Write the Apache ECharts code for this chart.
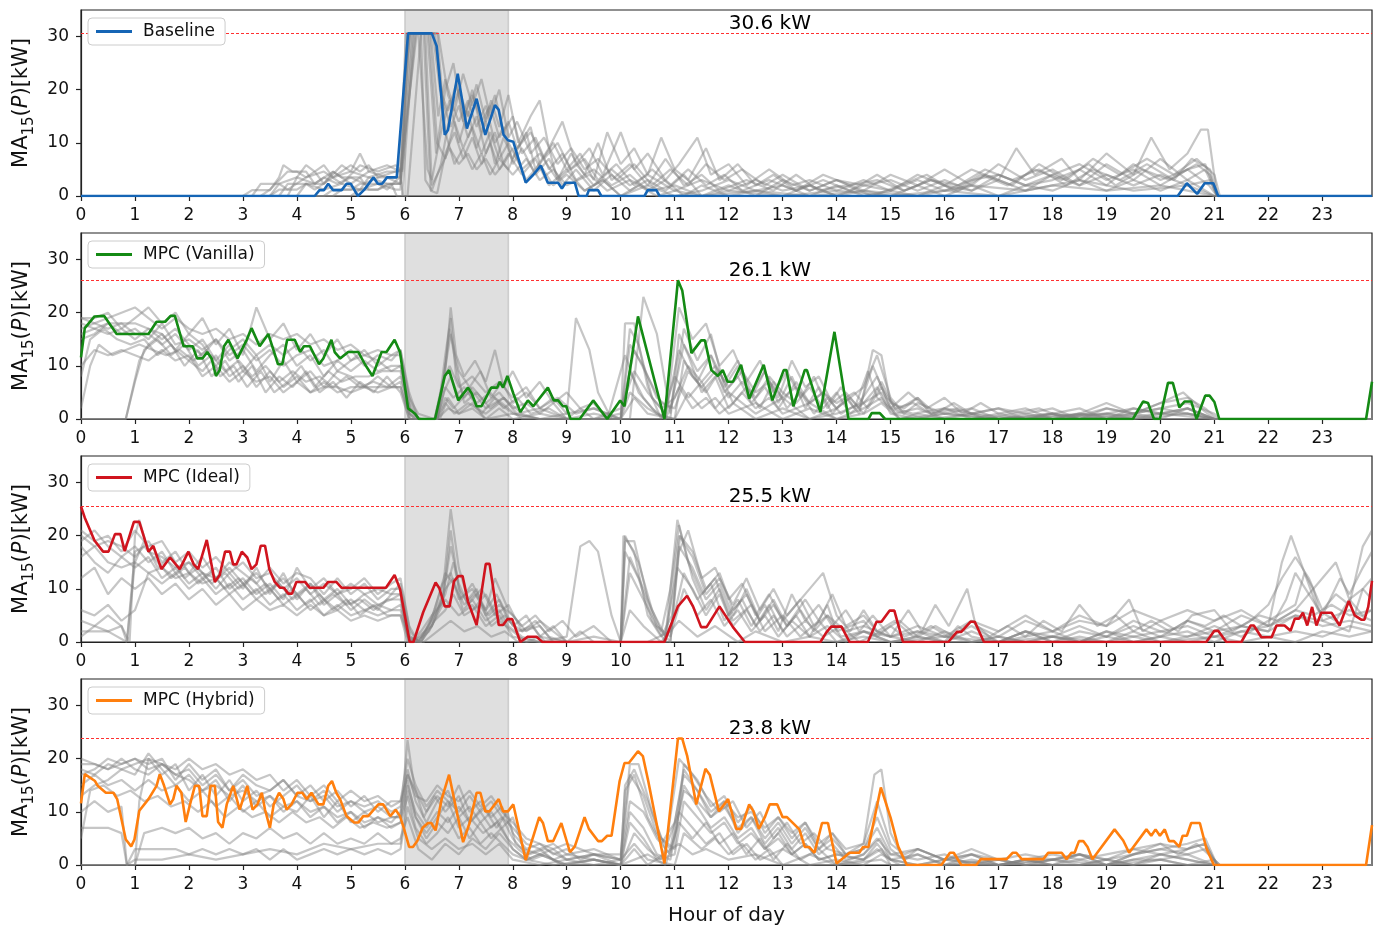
<!DOCTYPE html>
<html>
<head>
<meta charset="utf-8">
<script src="https://cdn.jsdelivr.net/npm/echarts@6/dist/echarts.min.js"></script>
<style>
  html, body { margin: 0; padding: 0; background: #fff; }
  #chart { width: 1378px; height: 928px; }
</style>
</head>
<body>
<div id="chart"></div>
<script>
// ---- axes / tick labels ----
const hourTicks = [0,1,2,3,4,5,6,7,8,9,10,11,12,13,14,15,16,17,18,19,20,21,22,23];
const kwTicks = [0,10,20,30];
const dayEnd = 23.92;          // last sample, 23:55
const kwMax = 35;
const shadeWindow = [6.0, 7.92];
const peakLabelHour = 12;

// ---- panels ----
const panelNames = ['Baseline', 'MPC (Vanilla)', 'MPC (Ideal)', 'MPC (Hybrid)'];
const panelColors = ['#1565b5', '#148a14', '#d0141e', '#ff7f0e'];
const peakKw = [30.6, 26.1, 25.5, 23.8];

// ---- highlighted day, per controller: [hour, kW] ----
const baseline = [[0,0],[4.33,0],[4.42,1.1],[4.5,1.1],[4.58,2.3],[4.67,1.1],[4.83,1.1],[4.92,2.3],[5.0,2.3],[5.13,0],[5.25,1.2],[5.42,3.5],[5.5,2.3],[5.58,2.3],[5.67,3.5],[5.85,3.5],[6.06,30.6],[6.5,30.6],[6.59,28.2],[6.74,11.5],[6.80,12.4],[6.98,23.0],[7.15,12.7],[7.33,18.3],[7.49,11.5],[7.67,17.1],[7.74,16.2],[7.83,11.5],[7.91,10.5],[8.01,10.2],[8.24,2.5],[8.38,4.0],[8.52,5.7],[8.65,2.5],[8.84,2.5],[8.91,1.4],[8.98,2.5],[9.15,2.5],[9.22,0],[9.37,0],[9.41,1.1],[9.58,1.1],[9.64,0],[10.44,0],[10.5,1.1],[10.66,1.1],[10.72,0],[20.32,0],[20.49,2.4],[20.68,0.4],[20.82,2.4],[20.98,2.4],[21.07,0],[23.92,0]];

const mpcVanilla = [[0,11.6],[0.07,17.1],[0.25,19.3],[0.43,19.4],[0.66,16.0],[1.25,16.0],[1.40,18.3],[1.56,18.3],[1.66,19.4],[1.74,19.4],[1.90,13.7],[2.07,13.7],[2.15,11.4],[2.25,11.4],[2.34,12.6],[2.42,11.4],[2.50,8.1],[2.57,9.2],[2.65,13.7],[2.73,14.9],[2.90,11.4],[3.07,14.9],[3.16,17.1],[3.31,13.7],[3.47,16.0],[3.65,10.3],[3.73,10.3],[3.82,14.9],[3.96,14.9],[4.06,12.6],[4.13,13.7],[4.24,13.7],[4.41,10.3],[4.49,11.4],[4.64,14.9],[4.70,12.6],[4.80,11.4],[4.95,12.6],[5.14,12.6],[5.26,10.3],[5.40,8.1],[5.57,12.6],[5.66,12.6],[5.81,14.9],[5.91,12.6],[6.06,2.0],[6.19,1.0],[6.26,0],[6.56,0],[6.74,8.1],[6.82,9.2],[6.99,3.5],[7.17,5.9],[7.24,4.8],[7.33,2.4],[7.42,2.4],[7.60,5.9],[7.71,5.9],[7.76,7.0],[7.82,5.9],[7.90,8.1],[8.01,4.8],[8.14,1.3],[8.28,3.5],[8.38,2.4],[8.65,5.9],[8.76,3.5],[8.84,3.5],[8.93,2.4],[8.99,2.4],[9.07,0],[9.24,0],[9.49,3.5],[9.75,0],[9.99,3.5],[10.07,2.4],[10.32,19.3],[10.81,0],[11.06,26.1],[11.14,24.2],[11.31,12.4],[11.49,14.8],[11.56,14.8],[11.68,9.2],[11.80,8.1],[11.89,9.2],[11.98,7.0],[12.08,7.0],[12.23,10.2],[12.38,3.8],[12.65,10.2],[12.81,3.5],[13.02,9.2],[13.07,9.2],[13.20,2.4],[13.41,9.2],[13.45,9.2],[13.70,1.3],[13.96,16.4],[14.22,0],[14.59,0],[14.65,1.1],[14.80,1.1],[14.9,0],[19.49,0],[19.68,3.3],[19.77,3.0],[19.88,0],[19.99,0],[20.14,6.8],[20.23,6.8],[20.35,2.2],[20.45,3.3],[20.57,3.3],[20.67,0],[20.83,4.4],[20.91,4.4],[21.0,3.2],[21.09,0],[23.81,0],[23.92,7.0]];

const mpcIdeal = [[0,25.5],[0.07,23.4],[0.25,19.1],[0.41,17.0],[0.51,17.0],[0.63,20.3],[0.73,20.3],[0.81,17.1],[0.98,22.6],[1.08,22.6],[1.25,17.0],[1.34,18.1],[1.49,13.7],[1.65,15.9],[1.83,13.7],[1.99,17.0],[2.09,14.6],[2.17,13.7],[2.33,19.2],[2.48,11.3],[2.57,12.6],[2.67,17.0],[2.76,17.0],[2.82,14.6],[2.88,14.6],[2.98,17.0],[3.08,15.9],[3.16,13.7],[3.25,14.6],[3.33,18.1],[3.41,18.1],[3.49,13.7],[3.59,11.3],[3.69,10.2],[3.76,10.2],[3.84,9.1],[3.91,9.1],[3.99,11.3],[4.15,11.3],[4.24,10.2],[4.49,10.2],[4.58,11.3],[4.73,11.3],[4.83,10.2],[5.65,10.2],[5.81,12.6],[5.91,10.0],[6.09,0],[6.16,0],[6.34,5.6],[6.57,11.2],[6.64,10.1],[6.74,6.7],[6.83,6.7],[6.91,11.4],[6.99,12.4],[7.07,12.4],[7.17,7.6],[7.33,3.2],[7.50,14.7],[7.57,14.7],[7.74,3.2],[7.82,3.2],[7.90,4.3],[7.99,4.3],[8.14,0],[8.28,1.0],[8.44,1.0],[8.55,0],[10.81,0],[11.06,6.7],[11.23,8.7],[11.34,6.7],[11.49,2.8],[11.59,2.8],[11.83,6.7],[12.08,2.8],[12.30,0],[13.70,0],[13.81,1.8],[13.90,2.9],[14.09,2.9],[14.24,0],[14.58,0],[14.74,3.8],[14.83,3.8],[14.98,5.9],[15.07,5.9],[15.23,0],[16.07,0],[16.23,1.9],[16.31,1.9],[16.48,3.8],[16.56,3.8],[16.73,0],[20.85,0],[21.0,2.1],[21.07,2.1],[21.22,0],[21.5,0],[21.67,3.1],[21.73,3.1],[21.87,0.9],[22.06,0.9],[22.15,3.1],[22.30,3.1],[22.41,2.1],[22.49,4.4],[22.57,4.4],[22.64,5.5],[22.72,3.1],[22.81,6.6],[22.89,3.1],[22.98,5.5],[23.17,5.5],[23.32,3.1],[23.49,7.7],[23.60,5.0],[23.72,4.2],[23.78,4.2],[23.85,6.6],[23.92,11.5]];

const mpcHybrid = [[0,11.6],[0.07,17.1],[0.26,15.8],[0.31,14.9],[0.46,13.6],[0.60,13.6],[0.67,12.4],[0.83,4.8],[0.93,3.5],[0.99,4.8],[1.08,10.2],[1.25,12.4],[1.40,14.9],[1.46,17.1],[1.54,14.9],[1.65,11.4],[1.71,12.4],[1.77,14.9],[1.86,13.6],[1.94,8.1],[2.02,11.4],[2.11,14.9],[2.19,14.9],[2.25,9.2],[2.33,9.2],[2.40,14.9],[2.48,14.9],[2.54,8.1],[2.62,7.0],[2.70,11.4],[2.82,14.9],[2.94,10.4],[3.08,14.9],[3.18,10.4],[3.27,11.4],[3.35,13.6],[3.41,10.4],[3.50,7.0],[3.57,11.4],[3.67,13.6],[3.75,12.4],[3.81,10.4],[3.90,11.4],[4.01,13.6],[4.10,13.6],[4.18,12.4],[4.27,13.6],[4.40,11.4],[4.49,11.4],[4.58,14.9],[4.65,15.8],[4.73,13.6],[4.80,12.4],[4.92,9.2],[5.06,8.0],[5.14,8.0],[5.23,9.2],[5.32,9.2],[5.51,11.4],[5.60,11.4],[5.73,9.2],[5.83,10.4],[5.91,9.2],[5.98,7.0],[6.08,3.4],[6.15,3.4],[6.23,4.5],[6.33,7.0],[6.43,7.9],[6.49,7.9],[6.57,6.5],[6.68,12.3],[6.82,17.0],[6.96,10.1],[7.08,4.3],[7.20,7.9],[7.33,13.6],[7.40,13.6],[7.49,10.1],[7.57,10.1],[7.74,12.4],[7.82,10.1],[7.91,10.1],[8.01,11.4],[8.24,0.9],[8.38,5.4],[8.49,9.0],[8.56,7.9],[8.65,4.5],[8.75,4.5],[8.90,7.9],[9.06,2.4],[9.15,3.5],[9.33,9.0],[9.41,6.8],[9.58,4.5],[9.65,4.5],[9.75,5.5],[9.83,5.5],[9.98,15.8],[10.07,19.2],[10.15,19.2],[10.32,21.4],[10.41,20.5],[10.51,15.8],[10.81,0.3],[11.06,23.8],[11.14,23.8],[11.23,20.6],[11.40,11.4],[11.57,18.1],[11.65,17.0],[11.82,10.1],[11.99,12.4],[12.14,6.8],[12.23,6.8],[12.38,11.4],[12.46,10.1],[12.56,6.8],[12.67,9.0],[12.76,11.4],[12.90,11.4],[13.0,9.0],[13.08,9.0],[13.31,6.7],[13.41,3.4],[13.49,3.4],[13.59,2.3],[13.73,7.9],[13.84,7.9],[14.0,0.3],[14.24,2.3],[14.42,2.3],[14.49,3.4],[14.59,3.4],[14.82,14.6],[15.0,8.9],[15.14,3.5],[15.30,0],[15.94,0],[16.10,2.3],[16.17,2.3],[16.31,0],[16.59,0],[16.67,1.1],[17.15,1.1],[17.26,2.3],[17.33,2.3],[17.43,1.1],[17.83,1.1],[17.92,2.3],[18.17,2.3],[18.26,1.1],[18.35,2.3],[18.41,2.3],[18.49,4.5],[18.57,4.5],[18.65,3.4],[18.74,1.1],[19.15,6.7],[19.31,4.6],[19.42,2.3],[19.74,6.7],[19.83,5.5],[19.91,6.7],[19.99,5.5],[20.08,6.7],[20.16,4.5],[20.25,4.5],[20.35,3.4],[20.41,5.5],[20.49,5.5],[20.57,7.9],[20.73,7.9],[20.85,3.2],[20.99,0],[23.81,0],[23.92,7.5]];

// ---- other days of the same controller (grey traces) ----
const baselineDays = [
  [[0,0],[3.0,0],[3.17,1.1],[3.5,1.1],[3.67,3.5],[3.75,5.8],[3.92,4.6],[4.17,4.6],[4.33,2.3],[4.5,3.5],[4.75,2.3],[5.0,3.5],[5.25,2.3],[5.5,3.5],[5.83,4.6],[5.95,5],[6.05,30.6],[6.25,30.6],[6.42,5],[6.5,3],[6.67,12],[6.83,18],[7.0,10],[7.17,16],[7.33,9],[7.5,14],[7.67,6],[7.83,11],[8.0,7],[8.25,12],[8.42,5],[8.67,9],[8.83,3],[9.08,8],[9.33,4],[9.58,10],[9.83,3],[10.17,6],[10.5,2],[10.83,7],[11.17,2],[11.5,4],[11.83,1],[12.33,3],[12.83,1],[13.25,4],[13.67,1],[14.17,2],[14.67,0],[15.17,2],[15.67,4],[16.17,1],[16.67,4],[17.17,2],[17.67,5],[18.17,3],[18.67,6],[19.17,2],[19.67,5],[20.17,3],[20.67,6],[20.92,4],[21.05,0],[23.92,0]],
  [[0,0],[3.33,0],[3.5,1.2],[3.83,4.6],[4.0,4.6],[4.17,3.5],[4.33,4.6],[4.5,2.3],[4.83,5.8],[5.0,4.6],[5.17,8],[5.33,4.6],[5.67,3.5],[5.92,2.3],[6.12,30.6],[6.42,30.6],[6.58,8],[6.75,20],[6.9,25],[7.08,14],[7.25,20],[7.42,12],[7.6,18],[7.75,13],[7.92,19],[8.1,10],[8.33,15],[8.5,18],[8.67,9],[8.92,14],[9.17,6],[9.42,9],[9.67,4],[10.0,12],[10.25,5],[10.5,8],[10.83,3],[11.08,6],[11.42,11],[11.67,4],[12.0,6],[12.33,2],[12.75,5],[13.17,2],[13.5,3],[14.0,1],[14.5,3],[15.0,1],[15.5,4],[16.0,2],[16.5,5],[17.0,3],[17.33,9],[17.67,4],[18.17,7],[18.5,3],[19.0,8],[19.5,4],[19.83,11],[20.17,5],[20.5,8],[20.75,12.5],[20.88,12.5],[21.05,0],[23.92,0]],
  [[0,0],[4.0,0],[4.17,2.3],[4.5,2.3],[4.67,4.6],[4.83,3.5],[5.17,3.5],[5.33,1.2],[5.5,1.2],[5.75,2.3],[5.85,0],[5.95,0],[6.17,30.6],[6.55,30.6],[6.7,18],[6.85,13],[7.0,17],[7.17,11],[7.33,15],[7.5,8],[7.67,12],[7.83,6],[8.0,9],[8.25,3],[8.5,6],[8.75,2],[9.0,4],[9.33,1],[9.67,3],[10.0,0],[10.5,2],[11.0,0],[11.5,1],[12.0,3],[12.5,1],[13.0,0],[13.5,2],[14.0,0],[14.5,1],[15.0,0],[15.5,2],[16.0,0],[16.5,2],[17.0,0],[17.5,2],[18.0,1],[18.5,3],[19.0,1],[19.5,3],[20.0,1],[20.5,3],[21.0,0],[23.92,0]],
  [[0,0],[3.5,0],[3.67,1.2],[4.0,1.2],[4.17,2.3],[4.5,1.2],[4.83,2.3],[5.17,1.2],[5.5,2.3],[5.83,1.2],[5.92,1.2],[6.0,22],[6.1,30.6],[6.3,30.6],[6.38,3],[6.5,1],[6.67,6],[6.83,15],[7.0,20],[7.17,15],[7.33,21],[7.5,14],[7.67,19],[7.83,12],[8.0,15],[8.17,8],[8.42,11],[8.67,5],[8.92,8],[9.17,3],[9.5,5],[9.83,2],[10.17,4],[10.5,1],[10.83,3],[11.17,0],[11.5,2],[12.0,0],[12.5,1],[13.0,2],[13.5,0],[14.0,2],[14.5,0],[15.0,1],[15.5,0],[16.0,2],[16.5,1],[17.0,3],[17.5,1],[18.0,4],[18.5,2],[19.0,4],[19.5,2],[20.0,4],[20.5,2],[20.92,3],[21.05,0],[23.92,0]],
  [[0,0],[5.0,0],[5.17,1.2],[5.5,1.2],[5.67,2.3],[5.92,2.3],[6.2,30.6],[6.6,30.6],[6.75,12],[6.92,6],[7.08,9],[7.25,5],[7.42,8],[7.58,4],[7.75,7],[7.92,5],[8.08,9],[8.33,13],[8.5,6],[8.75,10],[9.0,5],[9.25,8],[9.5,3],[9.75,12],[10.0,6],[10.25,9],[10.5,4],[10.75,11],[11.0,5],[11.25,3],[11.58,9],[11.83,3],[12.17,6],[12.5,2],[12.83,4],[13.25,1],[13.75,3],[14.25,1],[14.75,4],[15.25,1],[15.75,3],[16.25,1],[16.75,4],[17.25,2],[17.75,6],[18.25,3],[18.75,7],[19.25,4],[19.75,7],[20.25,4],[20.67,7],[21.0,4],[21.1,0],[23.92,0]],
  [[0,0],[3.67,0],[3.83,2.3],[4.17,2.3],[4.33,1.2],[4.67,3.5],[5.0,4.6],[5.33,3.5],[5.67,4.6],[5.9,4.6],[5.97,0],[6.05,0],[6.3,30.6],[6.62,30.6],[6.8,19],[7.0,14],[7.17,18],[7.33,13],[7.5,17],[7.67,10],[7.83,13],[8.0,6],[8.17,9],[8.42,4],[8.67,7],[8.92,2],[9.17,5],[9.5,1],[9.83,4],[10.17,1],[10.5,3],[10.83,1],[11.17,4],[11.5,0],[12.0,2],[12.5,0],[13.0,3],[13.5,1],[14.0,3],[14.5,1],[15.0,4],[15.5,2],[16.0,5],[16.5,2],[17.0,6],[17.5,3],[18.0,5],[18.5,2],[19.0,6],[19.5,3],[20.0,7],[20.5,3],[20.83,5],[21.05,0],[23.92,0]],
  [[0,0],[4.5,0],[4.67,1.2],[5.0,1.2],[5.17,2.3],[5.5,2.3],[5.67,1.2],[5.9,3.5],[6.02,30.6],[6.35,30.6],[6.48,1],[6.6,0.5],[6.75,8],[6.92,12],[7.08,7],[7.25,11],[7.42,6],[7.58,10],[7.75,5],[7.92,8],[8.17,4],[8.42,7],[8.67,2],[9.0,5],[9.33,1],[9.67,3],[10.0,0],[10.33,2],[10.67,0],[11.0,1],[11.5,0],[12.0,1],[13.0,0],[14.0,1],[15.0,0],[16.0,1],[17.0,0],[18.0,2],[19.0,1],[20.0,2],[20.5,1],[21.0,0],[23.92,0]],
  [[0,0],[3.83,0],[4.0,3.5],[4.17,5.8],[4.33,4.6],[4.5,5.8],[4.67,3.5],[5.0,5.8],[5.17,4.6],[5.33,5.8],[5.5,3.5],[5.92,3.5],[6.08,30.6],[6.48,30.6],[6.62,15],[6.75,22],[6.92,16],[7.08,23],[7.25,17],[7.42,22],[7.58,15],[7.75,20],[7.92,11],[8.08,14],[8.33,8],[8.58,11],[8.83,6],[9.08,9],[9.33,5],[9.58,7],[9.92,3],[10.25,6],[10.58,2],[10.92,5],[11.25,2],[11.58,6],[11.92,3],[12.25,5],[12.67,2],[13.0,4],[13.5,1],[14.0,3],[14.5,2],[15.0,3],[15.5,1],[16.0,3],[16.5,1],[17.0,4],[17.5,2],[18.0,4],[18.5,6],[19.0,3],[19.5,5],[20.0,2],[20.5,5],[20.83,6],[21.05,0],[23.92,0]],
  [[0,0],[3.17,0],[3.33,2.3],[3.67,2.3],[3.83,1.2],[4.17,3.5],[4.5,4.6],[4.83,2.3],[5.17,5.8],[5.5,4.6],[5.83,5.8],[5.95,4.6],[6.15,30.6],[6.45,30.6],[6.6,10],[6.75,7],[6.92,14],[7.08,9],[7.25,13],[7.42,8],[7.58,12],[7.75,7],[7.92,10],[8.17,5],[8.5,8],[8.83,3],[9.17,6],[9.5,2],[9.83,5],[10.17,2],[10.5,4],[11.0,1],[11.5,3],[12.0,1],[12.5,3],[13.0,1],[13.5,2],[14.0,0],[14.5,2],[15.0,1],[15.5,3],[16.0,1],[16.5,3],[17.0,4],[17.5,2],[18.0,3],[18.5,5],[19.0,2],[19.5,6],[20.0,3],[20.5,5],[20.9,2],[21.05,0],[23.92,0]],
  [[0,0],[4.67,0],[4.83,1.2],[5.17,1.2],[5.33,3.5],[5.67,2.3],[5.92,2.3],[6.08,30.6],[6.38,30.6],[6.5,2],[6.65,5],[6.83,9],[7.0,6],[7.17,8],[7.33,5],[7.5,7],[7.67,4],[7.83,6],[8.0,4],[8.25,7],[8.5,3],[8.75,5],[9.0,2],[9.42,4],[9.75,1],[10.17,3],[10.58,1],[11.0,2],[11.5,0],[12.5,1],[13.5,0],[14.5,1],[15.5,0],[16.5,2],[17.5,1],[18.5,3],[19.5,1],[20.5,2],[21.0,0],[23.92,0]],
  [[0,0],[3.5,0],[3.67,2.3],[4.0,3.5],[4.33,2.3],[4.67,4.6],[5.0,2.3],[5.33,4.6],[5.67,5.8],[5.92,4.6],[6.22,30.6],[6.52,30.6],[6.65,20],[6.8,16],[6.95,21],[7.1,15],[7.25,19],[7.42,14],[7.58,17],[7.75,11],[7.92,14],[8.08,9],[8.33,12],[8.58,7],[8.83,10],[9.08,5],[9.33,7],[9.58,3],[9.92,6],[10.25,2],[10.58,5],[10.92,2],[11.25,5],[11.58,2],[11.92,4],[12.25,1],[12.75,3],[13.25,1],[13.75,4],[14.25,2],[14.75,3],[15.25,1],[15.75,3],[16.25,2],[16.75,5],[17.25,3],[17.75,5],[18.25,2],[18.75,5],[19.25,3],[19.75,6],[20.25,3],[20.58,7],[20.92,5],[21.05,0],[23.92,0]]
];

const vanillaDays = [
  [[0,17],[0.25,18],[0.5,17],[0.75,18],[1.0,18],[1.25,17],[1.5,15],[1.75,17],[2.0,14],[2.25,12],[2.5,15],[2.75,11],[3.0,13],[3.25,9],[3.5,12],[3.75,14],[4.0,10],[4.25,12],[4.5,8],[4.75,11],[5.0,9],[5.25,11],[5.5,9],[5.75,10],[5.92,10],[6.1,2],[6.25,0],[6.6,0],[6.75,12],[6.85,19],[6.95,8],[7.1,4],[7.25,6],[7.5,3],[7.75,5],[8.0,2],[8.25,3],[8.5,1],[8.75,3],[9.0,0],[9.5,1],[10.0,0],[10.17,17],[10.33,14],[10.58,4],[10.83,1],[11.08,13],[11.33,8],[11.58,5],[11.83,9],[12.08,3],[12.33,6],[12.58,2],[12.83,7],[13.08,2],[13.33,5],[13.58,1],[13.83,4],[14.08,1],[14.42,3],[14.75,8],[15.0,2],[15.25,1],[15.5,3],[16.0,1],[16.5,2],[17.0,0],[17.5,1],[18.0,0],[18.5,1],[19.0,0],[19.5,2],[20.0,1],[20.5,2],[21.0,0],[23.92,0]],
  [[0,0],[0.5,0],[0.83,0],[1.08,11],[1.25,14],[1.5,16],[1.75,13],[2.0,11],[2.25,9],[2.5,12],[2.75,8],[3.0,10],[3.25,6],[3.5,9],[3.75,6],[4.0,8],[4.25,5],[4.5,7],[4.75,5],[5.0,6],[5.5,6],[5.92,6],[6.08,1],[6.2,0],[6.55,0],[6.7,6],[6.83,17],[6.95,10],[7.1,3],[7.33,5],[7.58,2],[7.83,4],[8.08,1],[8.5,2],[9.0,0],[10.0,0],[10.08,18],[10.25,18],[10.5,6],[10.75,0],[11.0,8],[11.25,4],[11.5,7],[11.75,2],[12.0,5],[12.5,1],[13.0,4],[13.5,0],[14.0,2],[14.5,6],[14.75,12],[15.0,4],[15.25,1],[15.75,0],[16.5,1],[17.5,0],[18.5,1],[19.5,0],[20.5,1],[21.0,0],[23.92,0]],
  [[0,8],[0.17,15],[0.42,17],[0.67,15],[0.92,14],[1.17,15],[1.42,12],[1.67,14],[1.92,10],[2.17,13],[2.42,8],[2.67,11],[2.92,7],[3.17,10],[3.42,5],[3.67,8],[3.92,6],[4.17,9],[4.42,5],[4.67,7],[4.92,4],[5.17,7],[5.42,5],[5.67,8],[5.92,5],[6.08,0],[6.6,0],[6.75,4],[6.9,2],[7.17,5],[7.42,1],[7.67,4],[7.92,2],[8.17,0],[8.5,0],[9.0,1],[9.17,19],[9.42,13],[9.58,5],[9.83,0],[10.17,0],[10.42,23],[10.67,16],[10.92,1],[11.17,17],[11.42,11],[11.67,16],[11.92,6],[12.17,10],[12.42,4],[12.67,9],[12.92,3],[13.17,8],[13.42,2],[13.67,6],[13.92,1],[14.17,4],[14.42,1],[14.67,13],[14.83,12],[15.0,3],[15.25,2],[15.5,4],[15.75,1],[16.25,2],[16.75,0],[17.25,1],[17.75,2],[18.25,0],[19.0,2],[19.5,1],[20.0,3],[20.5,4],[20.83,2],[21.05,0],[23.92,0]],
  [[0,19],[0.25,19],[0.5,20],[0.75,17],[1.0,19],[1.25,21],[1.5,18],[1.75,20],[2.0,16],[2.25,19],[2.5,14],[2.75,17],[3.0,12],[3.25,21],[3.5,15],[3.75,18],[4.0,13],[4.25,16],[4.5,12],[4.75,15],[5.0,11],[5.25,13],[5.5,10],[5.75,12],[5.92,12],[6.1,3],[6.25,0],[6.6,0],[6.75,9],[6.85,21],[6.95,12],[7.1,8],[7.3,11],[7.5,7],[7.67,13],[7.83,6],[8.0,9],[8.25,4],[8.5,7],[8.75,3],[9.0,5],[9.25,2],[9.5,3],[9.75,0],[10.0,9],[10.08,12],[10.33,5],[10.58,2],[10.83,0],[11.08,21],[11.33,15],[11.58,18],[11.83,10],[12.08,13],[12.33,7],[12.58,11],[12.83,5],[13.08,9],[13.33,4],[13.58,8],[13.83,2],[14.08,6],[14.33,2],[14.58,9],[14.75,4],[15.0,2],[15.33,5],[15.67,2],[16.0,4],[16.33,1],[16.67,3],[17.0,1],[17.5,2],[18.0,0],[18.5,1],[19.0,3],[19.5,1],[20.0,2],[20.5,3],[21.0,1],[21.1,0],[23.92,0]],
  [[0,0],[0.83,0],[1.0,7],[1.17,13],[1.42,15],[1.67,12],[1.92,14],[2.17,10],[2.42,12],[2.67,9],[2.92,11],[3.17,8],[3.42,10],[3.67,7],[3.92,9],[4.17,7],[4.42,8],[4.67,6],[4.92,8],[5.17,6],[5.42,7],[5.67,6],[5.92,8],[6.1,2],[6.25,0],[6.65,0],[6.8,4],[7.0,1],[7.25,3],[7.5,0],[7.75,2],[8.0,0],[8.5,1],[9.0,0],[10.0,0],[10.17,5],[10.5,2],[10.83,0],[11.08,6],[11.33,2],[11.58,4],[11.83,1],[12.08,3],[12.5,0],[13.0,2],[13.5,0],[14.0,1],[14.5,3],[14.75,6],[15.0,1],[15.5,0],[16.0,1],[17.0,0],[18.0,1],[19.0,0],[20.0,1],[21.0,0],[23.92,0]],
  [[0,15],[0.25,16],[0.5,18],[0.75,16],[1.0,17],[1.25,15],[1.5,18],[1.75,14],[2.0,15],[2.25,13],[2.5,15],[2.75,12],[3.0,14],[3.25,11],[3.5,13],[3.75,10],[4.0,12],[4.25,13],[4.5,10],[4.75,11],[5.0,13],[5.25,10],[5.5,12],[5.75,11],[5.92,13],[6.08,4],[6.25,1],[6.55,0],[6.7,7],[6.83,10],[7.0,6],[7.25,8],[7.5,5],[7.75,7],[8.0,4],[8.25,6],[8.5,2],[8.75,4],[9.0,1],[9.5,2],[10.0,0],[10.17,9],[10.42,4],[10.67,1],[11.0,0],[11.17,11],[11.42,7],[11.67,12],[11.92,5],[12.17,8],[12.42,3],[12.67,6],[12.92,2],[13.25,7],[13.5,3],[13.75,5],[14.0,2],[14.25,4],[14.5,1],[14.83,7],[15.08,2],[15.42,3],[15.75,1],[16.0,2],[16.5,0],[17.0,1],[17.5,0],[18.5,2],[19.0,0],[19.5,1],[20.0,0],[20.5,2],[21.0,0],[23.92,0]],
  [[0,2],[0.17,10],[0.33,14],[0.58,12],[0.83,13],[1.08,14],[1.33,13],[1.58,12],[1.83,13],[2.08,11],[2.33,13],[2.58,8],[2.83,10],[3.08,6],[3.33,9],[3.58,5],[3.83,7],[4.08,10],[4.33,6],[4.58,9],[4.83,7],[5.08,8],[5.33,8],[5.58,9],[5.92,9],[6.1,0],[6.6,0],[6.75,3],[6.92,1],[7.17,3],[7.5,1],[7.75,3],[8.0,1],[8.5,0],[9.0,0],[9.25,2],[9.5,0],[10.0,1],[10.25,13],[10.5,8],[10.75,3],[11.0,2],[11.25,9],[11.5,6],[11.75,9],[12.0,4],[12.25,7],[12.5,4],[12.75,8],[13.0,5],[13.25,3],[13.5,6],[13.75,2],[14.0,5],[14.25,1],[14.5,3],[14.83,5],[15.08,1],[15.5,2],[16.0,0],[16.5,1],[17.0,0],[18.0,1],[18.5,0],[19.5,1],[20.0,2],[20.5,1],[21.0,0],[23.92,0]],
  [[0,18],[0.25,17],[0.5,18],[0.75,18],[1.0,16],[1.25,16],[1.5,14],[1.75,16],[2.0,13],[2.25,15],[2.5,11],[2.75,14],[3.0,9],[3.25,12],[3.5,7],[3.75,11],[4.0,7],[4.25,9],[4.5,6],[4.75,9],[5.0,8],[5.25,6],[5.5,8],[5.75,6],[5.92,7],[6.08,1],[6.2,0],[6.6,0],[6.72,5],[6.85,8],[7.0,4],[7.2,6],[7.5,2],[7.83,4],[8.17,1],[8.5,0],[10.92,0],[11.08,16],[11.25,12],[11.5,5],[11.75,8],[12.0,2],[12.25,5],[12.5,2],[12.75,4],[13.0,1],[13.5,3],[14.0,0],[14.5,2],[14.83,4],[15.17,0],[15.5,1],[16.0,0],[18.0,0],[19.0,1],[19.5,2],[20.0,1],[20.5,1],[21.0,0],[23.92,0]],
  [[0,16],[0.25,17],[0.5,16],[0.75,17],[1.0,15],[1.25,17],[1.5,16],[1.75,13],[2.0,16],[2.25,14],[2.5,10],[2.75,13],[3.0,15],[3.25,12],[3.5,14],[3.75,12],[4.0,14],[4.25,11],[4.5,13],[4.75,9],[5.0,11],[5.25,12],[5.5,11],[5.75,9],[5.92,10],[6.1,1],[6.3,0],[6.6,0],[6.75,6],[6.9,4],[7.1,6],[7.33,3],[7.58,5],[7.83,2],[8.08,4],[8.33,1],[8.67,2],[9.0,0],[9.5,0],[10.0,2],[10.25,9],[10.5,5],[10.75,2],[11.0,4],[11.25,10],[11.5,7],[11.75,10],[12.0,6],[12.25,9],[12.5,5],[12.75,7],[13.0,4],[13.25,6],[13.5,3],[13.75,5],[14.0,3],[14.33,5],[14.58,2],[14.83,6],[15.08,2],[15.42,1],[16.0,2],[16.5,1],[17.0,2],[17.5,0],[18.0,1],[18.5,0],[19.0,1],[19.5,0],[20.0,1],[20.5,2],[21.0,0],[23.92,0]],
  [[0,10],[0.25,13],[0.5,12],[0.75,13],[1.0,12],[1.25,11],[1.5,13],[1.75,11],[2.0,12],[2.25,8],[2.5,10],[2.75,7],[3.0,9],[3.25,7],[3.5,8],[3.75,5],[4.0,7],[4.25,5],[4.5,6],[4.75,6],[5.0,5],[5.25,6],[5.5,5],[5.75,6],[5.92,6],[6.08,0],[6.6,0],[6.8,2],[7.0,1],[7.25,2],[7.5,0],[8.0,1],[8.5,0],[10.0,0],[10.25,4],[10.5,1],[11.0,0],[11.25,5],[11.5,2],[11.75,4],[12.0,1],[12.5,3],[13.0,0],[13.5,2],[14.0,0],[14.5,1],[14.83,3],[15.17,0],[16.0,1],[17.0,0],[19.0,1],[20.0,0],[23.92,0]],
  [[0,19],[0.25,18],[0.5,19],[0.75,20],[1.0,21],[1.25,19],[1.5,17],[1.75,19],[2.0,17],[2.25,16],[2.5,17],[2.75,15],[3.0,16],[3.25,14],[3.5,16],[3.75,15],[4.0,16],[4.25,14],[4.5,15],[4.75,13],[5.0,14],[5.25,12],[5.5,13],[5.75,12],[5.92,13],[6.08,5],[6.25,0],[6.6,0],[6.72,8],[6.85,16],[7.0,9],[7.2,6],[7.4,9],[7.6,4],[7.8,7],[8.0,3],[8.25,5],[8.5,2],[8.83,4],[9.17,1],[9.5,2],[10.0,0],[10.17,14],[10.42,10],[10.67,4],[10.92,2],[11.17,14],[11.42,9],[11.67,12],[11.92,7],[12.17,11],[12.42,5],[12.67,9],[12.92,4],[13.17,11],[13.42,6],[13.67,8],[13.92,3],[14.17,5],[14.42,2],[14.67,10],[14.92,4],[15.17,2],[15.5,4],[15.83,1],[16.17,3],[16.5,1],[17.0,2],[17.5,1],[18.0,2],[18.5,0],[19.0,2],[19.5,1],[20.0,3],[20.42,5],[20.75,2],[21.0,0],[23.92,0]]
];

const idealDays = [
  [[0,19],[0.25,21],[0.5,18],[0.75,16],[1.0,18],[1.25,15],[1.5,17],[1.75,13],[2.0,15],[2.25,12],[2.5,14],[2.75,10],[3.0,12],[3.25,9],[3.5,11],[3.75,8],[4.0,14],[4.25,10],[4.5,12],[4.75,9],[5.0,11],[5.25,9],[5.5,10],[5.75,9],[5.92,11],[6.1,2],[6.25,0],[6.5,4],[6.7,9],[6.85,25],[7.0,14],[7.17,8],[7.33,10],[7.5,5],[7.75,8],[8.0,3],[8.25,5],[8.5,1],[8.75,3],[9.0,0],[9.25,2],[9.5,0],[10.0,0],[10.08,20],[10.33,15],[10.58,6],[10.83,1],[11.05,23],[11.25,15],[11.5,9],[11.75,12],[12.0,5],[12.25,8],[12.5,3],[12.75,7],[13.0,2],[13.25,5],[13.5,1],[13.83,7],[14.0,2],[14.5,4],[14.75,1],[15.0,3],[15.25,1],[15.5,2],[16.0,0],[16.25,3],[16.5,1],[17.0,0],[17.5,2],[18.0,0],[18.5,2],[19.0,1],[19.5,3],[20.0,1],[20.5,4],[21.0,2],[21.5,5],[22.0,3],[22.25,15],[22.42,20],[22.67,13],[22.92,6],[23.25,4],[23.5,8],[23.75,5],[23.92,6]],
  [[0,1],[0.25,3],[0.5,2],[0.75,3],[0.9,0],[1.0,20],[1.08,23],[1.25,17],[1.5,16],[1.75,14],[2.0,15],[2.25,13],[2.5,12],[2.75,14],[3.0,11],[3.25,13],[3.5,10],[3.75,12],[4.0,9],[4.25,11],[4.5,8],[4.75,10],[5.0,7],[5.25,9],[5.5,7],[5.75,8],[5.92,9],[6.05,1],[6.2,0],[6.45,2],[6.7,7],[6.85,21],[7.0,10],[7.25,6],[7.5,9],[7.75,4],[8.0,2],[8.25,0],[8.5,1],[9.0,0],[10.0,0],[10.08,19],[10.25,19],[10.5,8],[10.75,2],[10.92,10],[11.08,22],[11.33,12],[11.58,6],[11.83,10],[12.08,4],[12.42,7],[12.67,2],[13.0,5],[13.33,1],[13.67,4],[14.0,0],[14.5,2],[15.0,0],[15.5,1],[16.0,0],[17.0,0],[17.5,2],[18.0,0],[18.5,1],[19.0,0],[19.5,2],[20.0,0],[20.5,1],[21.0,3],[21.5,1],[22.0,4],[22.5,7],[22.67,13],[22.83,10],[23.0,4],[23.5,2],[23.75,10],[23.92,12]],
  [[0,16],[0.25,18],[0.5,15],[0.75,14],[1.0,15],[1.25,13],[1.5,14],[1.75,12],[2.0,13],[2.25,11],[2.5,12],[2.75,9],[3.0,11],[3.25,8],[3.5,10],[3.75,7],[4.0,9],[4.25,6],[4.5,8],[4.75,6],[5.0,8],[5.25,6],[5.5,7],[5.75,6],[5.92,7],[6.08,0],[6.25,1],[6.5,3],[6.75,10],[6.9,12],[7.08,6],[7.25,8],[7.5,4],[7.75,6],[7.92,3],[8.17,1],[8.5,0],[9.0,1],[9.25,18],[9.42,19],[9.58,17],[9.83,5],[10.0,0],[10.92,0],[11.08,17],[11.25,21],[11.5,12],[11.75,14],[12.0,8],[12.25,11],[12.5,5],[12.75,9],[13.0,4],[13.25,7],[13.5,10],[13.75,13],[14.0,5],[14.25,2],[14.5,6],[14.75,2],[15.0,1],[15.5,3],[16.0,1],[16.5,4],[17.0,2],[17.5,5],[18.0,2],[18.5,4],[19.0,3],[19.5,6],[20.0,4],[20.5,6],[21.0,4],[21.5,6],[22.0,3],[22.5,6],[23.0,12],[23.25,15],[23.5,8],[23.75,10],[23.92,8]],
  [[0,6],[0.25,5],[0.5,7],[0.75,4],[1.0,6],[1.25,13],[1.5,11],[1.75,13],[2.0,10],[2.25,12],[2.5,9],[2.75,11],[3.0,8],[3.25,10],[3.5,7],[3.75,9],[4.0,6],[4.25,8],[4.5,5],[4.75,7],[5.0,5],[5.25,6],[5.5,5],[5.75,6],[5.92,6],[6.1,0],[6.3,2],[6.5,5],[6.75,8],[7.0,5],[7.25,7],[7.5,3],[7.75,5],[8.0,1],[8.5,0],[10.0,0],[10.17,13],[10.42,8],[10.67,3],[10.92,1],[11.17,10],[11.42,5],[11.67,8],[11.92,3],[12.17,6],[12.42,2],[12.67,5],[12.92,1],[13.17,4],[13.5,1],[13.83,3],[14.17,0],[14.5,2],[15.0,0],[15.5,1],[16.0,0],[16.5,2],[17.0,0],[17.5,1],[18.0,2],[18.5,0],[19.0,2],[19.5,1],[20.0,2],[20.5,1],[21.0,2],[21.5,3],[22.0,2],[22.5,5],[23.0,3],[23.5,4],[23.92,3]],
  [[0,2],[0.5,2],[0.85,0],[1.0,17],[1.17,18],[1.42,15],[1.67,12],[1.92,14],[2.17,11],[2.42,13],[2.67,10],[2.92,12],[3.17,9],[3.42,11],[3.67,8],[3.92,10],[4.17,7],[4.42,9],[4.67,6],[4.92,8],[5.17,5],[5.42,7],[5.67,5],[5.92,5],[6.05,0],[6.3,0],[6.55,4],[6.75,6],[6.9,9],[7.1,5],[7.4,7],[7.6,3],[7.85,5],[8.1,2],[8.35,3],[8.6,0],[10.0,0],[10.05,20],[10.25,17],[10.5,5],[10.75,1],[10.95,5],[11.1,20],[11.33,17],[11.58,10],[11.83,13],[12.08,6],[12.33,9],[12.58,4],[12.83,8],[13.08,3],[13.33,6],[13.58,2],[13.83,5],[14.08,1],[14.5,2],[15.0,1],[15.5,0],[16.0,2],[16.5,0],[17.0,1],[17.5,0],[18.0,1],[18.5,0],[19.0,2],[19.5,0],[20.0,1],[20.5,0],[21.0,1],[21.5,2],[22.0,1],[22.5,2],[23.0,1],[23.5,3],[23.92,2]],
  [[0,21],[0.25,19],[0.5,20],[0.75,17],[1.0,21],[1.25,18],[1.5,19],[1.75,15],[2.0,17],[2.25,14],[2.5,16],[2.75,13],[3.0,15],[3.25,12],[3.5,13],[3.75,10],[4.0,12],[4.25,9],[4.5,11],[4.75,9],[5.0,10],[5.25,12],[5.5,9],[5.75,11],[5.92,12],[6.08,3],[6.25,0],[6.45,3],[6.7,11],[6.85,13],[7.0,8],[7.25,10],[7.5,6],[7.67,12],[7.92,6],[8.17,3],[8.42,5],[8.67,2],[8.92,4],[9.17,1],[9.5,3],[9.83,0],[10.5,0],[10.92,2],[11.17,13],[11.42,8],[11.67,11],[11.92,4],[12.17,8],[12.42,3],[12.67,7],[12.92,2],[13.17,9],[13.42,4],[13.67,7],[13.92,3],[14.17,6],[14.42,2],[14.67,5],[15.0,1],[15.33,6],[15.58,2],[15.83,7],[16.08,3],[16.42,10],[16.58,3],[17.0,1],[17.5,4],[18.0,2],[18.5,5],[19.0,3],[19.42,8],[19.67,2],[20.0,4],[20.33,2],[20.58,5],[21.0,6],[21.33,2],[21.67,4],[22.0,7],[22.25,12],[22.5,16],[22.75,12],[23.0,6],[23.25,9],[23.5,7],[23.75,18],[23.92,21]],
  [[0,12],[0.25,14],[0.5,9],[0.75,12],[1.0,10],[1.25,12],[1.5,9],[1.75,11],[2.0,8],[2.25,10],[2.5,7],[2.75,9],[3.0,6],[3.25,8],[3.5,6],[3.75,7],[4.0,5],[4.25,7],[4.5,5],[4.75,6],[5.0,4],[5.25,5],[5.5,4],[5.75,5],[5.92,5],[6.1,0],[6.35,0],[6.6,2],[6.85,4],[7.1,2],[7.35,3],[7.6,1],[7.85,2],[8.1,0],[9.0,0],[9.5,1],[10.0,0],[10.17,6],[10.42,3],[10.75,0],[11.08,4],[11.42,1],[11.75,3],[12.17,0],[12.5,2],[13.0,0],[13.5,1],[14.0,0],[14.5,1],[15.0,0],[16.0,1],[17.0,0],[18.0,1],[19.0,0],[19.5,1],[20.0,0],[21.0,1],[21.5,0],[22.0,1],[22.5,0],[23.0,2],[23.5,1],[23.92,2]],
  [[0,18],[0.25,15],[0.5,13],[0.75,16],[1.0,14],[1.25,16],[1.5,12],[1.75,14],[2.0,11],[2.25,13],[2.5,10],[2.75,13],[3.0,10],[3.25,14],[3.5,9],[3.75,13],[4.0,8],[4.25,11],[4.5,7],[4.75,9],[5.0,6],[5.25,8],[5.5,6],[5.75,9],[5.92,9],[6.08,1],[6.3,0],[6.55,6],[6.75,13],[6.9,11],[7.1,7],[7.3,9],[7.55,5],[7.75,7],[8.0,5],[8.25,2],[8.5,4],[8.75,2],[9.0,0],[10.8,0],[11.05,14],[11.33,10],[11.58,5],[11.83,9],[12.08,3],[12.33,6],[12.58,2],[12.83,5],[13.08,1],[13.42,4],[13.75,1],[14.08,3],[14.42,0],[14.83,2],[15.17,4],[15.5,1],[15.83,3],[16.17,1],[16.5,4],[16.83,1],[17.17,3],[17.5,1],[17.83,4],[18.17,2],[18.5,7],[18.83,3],[19.17,5],[19.5,2],[19.83,4],[20.17,2],[20.5,4],[20.83,3],[21.17,5],[21.5,3],[21.83,5],[22.17,4],[22.5,6],[22.83,5],[23.17,7],[23.5,5],[23.92,6]],
  [[0,4],[0.25,3],[0.5,5],[0.75,3],[0.85,0],[1.0,15],[1.17,19],[1.42,14],[1.67,16],[1.92,12],[2.17,14],[2.42,11],[2.67,13],[2.92,10],[3.17,12],[3.42,9],[3.67,11],[3.92,8],[4.17,10],[4.42,7],[4.67,9],[4.92,7],[5.17,8],[5.42,6],[5.67,8],[5.92,8],[6.08,0],[6.3,1],[6.55,5],[6.75,9],[6.9,15],[7.05,8],[7.25,11],[7.5,6],[7.7,9],[7.92,4],[8.17,2],[8.5,3],[8.75,0],[10.0,0],[10.17,16],[10.42,10],[10.67,3],[10.92,0],[11.08,18],[11.33,14],[11.58,8],[11.83,11],[12.08,5],[12.33,10],[12.58,4],[12.83,7],[13.08,3],[13.42,8],[13.67,4],[13.92,9],[14.17,3],[14.5,5],[14.75,2],[15.08,4],[15.42,1],[15.75,3],[16.08,1],[16.5,3],[17.0,0],[17.5,2],[18.0,1],[18.5,3],[19.0,1],[19.5,4],[20.0,2],[20.5,3],[21.0,1],[21.5,3],[22.0,2],[22.33,8],[22.5,13],[22.75,9],[23.0,5],[23.33,12],[23.5,9],[23.75,14],[23.92,17]],
  [[0,20],[0.25,18],[0.5,19],[0.75,18],[1.0,16],[1.25,19],[1.5,15],[1.75,17],[2.0,13],[2.25,16],[2.5,12],[2.75,15],[3.0,13],[3.25,11],[3.5,14],[3.75,11],[4.0,13],[4.25,12],[4.5,9],[4.75,12],[5.0,9],[5.25,11],[5.5,8],[5.75,10],[5.92,10],[6.1,1],[6.3,0],[6.5,3],[6.7,8],[6.85,18],[7.0,11],[7.17,7],[7.42,10],[7.67,5],[7.92,7],[8.17,2],[8.42,4],[8.67,1],[9.0,0],[10.0,0],[10.08,17],[10.33,12],[10.58,4],[10.83,0],[11.08,20],[11.33,16],[11.58,9],[11.83,12],[12.08,7],[12.33,12],[12.58,6],[12.83,10],[13.08,5],[13.33,8],[13.58,3],[13.83,5],[14.17,2],[14.5,3],[15.0,1],[15.5,2],[16.0,1],[16.5,0],[17.0,1],[17.5,0],[18.0,1],[18.5,0],[19.0,1],[19.5,0],[20.0,1],[20.5,2],[21.0,0],[21.5,2],[22.0,3],[22.5,5],[23.0,4],[23.5,6],[23.92,4]]
];

const hybridDays = [
  [[0,19],[0.25,19],[0.5,18],[0.75,19],[1.0,20],[1.25,18],[1.5,19],[1.75,17],[2.0,16],[2.25,14],[2.5,15],[2.75,13],[3.0,14],[3.25,12],[3.5,13],[3.75,11],[4.0,12],[4.25,10],[4.5,11],[4.75,9],[5.0,10],[5.25,8],[5.5,9],[5.75,8],[5.92,10],[6.05,18],[6.2,12],[6.4,8],[6.6,12],[6.8,14],[7.0,9],[7.2,11],[7.4,8],[7.6,10],[7.8,7],[8.0,9],[8.2,3],[8.5,2],[8.75,3],[9.0,1],[9.5,2],[10.0,1],[10.08,14],[10.25,17],[10.5,9],[10.75,4],[11.0,8],[11.17,17],[11.42,14],[11.67,9],[11.92,12],[12.17,6],[12.42,9],[12.67,4],[12.92,7],[13.17,3],[13.42,6],[13.67,2],[13.92,4],[14.17,1],[14.5,2],[14.75,5],[15.0,2],[15.5,1],[16.0,2],[16.5,0],[17.0,1],[17.5,0],[18.0,1],[18.5,2],[19.0,0],[19.5,2],[20.0,3],[20.5,2],[20.83,3],[21.05,0],[23.92,0]],
  [[0,7],[0.25,7],[0.5,7],[0.75,6],[0.85,0],[1.0,0],[1.08,12],[1.25,20],[1.5,19],[1.75,17],[2.0,18],[2.25,15],[2.5,17],[2.75,14],[3.0,16],[3.25,13],[3.5,14],[3.75,16],[4.0,13],[4.25,12],[4.5,14],[4.75,11],[5.0,12],[5.25,10],[5.5,11],[5.75,9],[5.92,9],[6.05,23.5],[6.17,15],[6.35,9],[6.55,13],[6.75,10],[7.0,13],[7.2,8],[7.45,11],[7.7,7],[7.9,10],[8.05,4],[8.3,2],[8.6,3],[9.0,1],[9.5,2],[10.0,2],[10.17,19],[10.33,19],[10.58,10],[10.83,3],[11.08,20],[11.33,17],[11.58,13],[11.83,10],[12.08,12],[12.33,7],[12.58,10],[12.83,5],[13.08,8],[13.33,4],[13.58,6],[13.83,3],[14.17,2],[14.5,4],[14.7,17],[14.83,18],[15.0,6],[15.25,1],[15.5,2],[16.0,0],[16.5,1],[17.0,0],[17.5,1],[18.0,0],[18.5,1],[19.0,0],[19.5,1],[20.0,2],[20.5,1],[21.0,0],[23.92,0]],
  [[0,5],[0.17,14],[0.42,15],[0.67,13],[0.92,14],[1.17,12],[1.42,13],[1.67,11],[1.92,12],[2.17,10],[2.42,12],[2.67,9],[2.92,11],[3.17,9],[3.42,10],[3.67,8],[3.92,10],[4.17,8],[4.42,9],[4.67,7],[4.92,9],[5.17,7],[5.42,8],[5.67,7],[5.92,8],[6.05,16],[6.2,9],[6.4,6],[6.6,9],[6.8,12],[7.0,7],[7.2,9],[7.45,6],[7.7,8],[7.9,5],[8.1,3],[8.35,1],[8.6,2],[8.9,0],[9.5,1],[10.0,0],[10.17,10],[10.42,7],[10.67,2],[10.92,1],[11.17,15],[11.42,11],[11.67,7],[11.92,9],[12.17,5],[12.42,7],[12.67,3],[12.92,6],[13.17,2],[13.42,4],[13.67,1],[14.0,2],[14.5,1],[14.75,4],[15.0,1],[15.5,0],[16.0,1],[17.0,0],[17.5,1],[18.0,0],[19.0,0],[19.5,1],[20.0,1],[20.5,2],[21.0,0],[23.92,0]],
  [[0,0],[0.85,0],[1.0,3],[1.25,3],[1.5,3],[1.75,3],[2.0,2],[2.25,3],[2.5,2],[2.75,3],[3.0,2],[3.25,3],[3.5,1],[3.75,3],[4.0,1],[4.25,2],[4.5,3],[4.75,2],[5.0,3],[5.25,2],[5.5,3],[5.75,2],[5.92,3],[6.05,11],[6.25,5],[6.5,3],[6.75,5],[7.0,3],[7.25,4],[7.5,2],[7.75,4],[8.0,1],[8.5,0],[9.0,1],[9.5,0],[10.0,1],[10.25,4],[10.5,1],[11.0,0],[11.17,6],[11.5,3],[11.75,5],[12.0,2],[12.25,4],[12.5,1],[12.75,3],[13.0,0],[13.5,2],[14.0,0],[14.5,1],[14.83,3],[15.0,0],[17.0,0],[18.0,1],[19.0,0],[20.0,1],[20.5,0],[23.92,0]],
  [[0,13],[0.25,15],[0.5,16],[0.75,18],[1.0,17],[1.25,21],[1.5,18],[1.75,15],[2.0,17],[2.25,14],[2.5,16],[2.75,12],[3.0,15],[3.25,11],[3.5,13],[3.75,10],[4.0,12],[4.25,9],[4.5,11],[4.75,8],[5.0,10],[5.25,7],[5.5,9],[5.75,7],[5.92,8],[6.05,13],[6.2,7],[6.4,4],[6.6,6],[6.8,9],[7.0,5],[7.2,7],[7.4,4],[7.6,6],[7.8,4],[8.0,2],[8.25,1],[8.5,2],[9.0,0],[9.5,1],[10.0,0],[10.5,2],[10.83,0],[11.08,8],[11.33,5],[11.58,8],[11.83,4],[12.08,6],[12.33,2],[12.58,5],[12.83,1],[13.08,4],[13.33,1],[13.67,3],[14.0,0],[14.5,2],[14.8,5],[15.0,1],[15.5,2],[16.0,0],[16.5,2],[17.0,0],[17.5,1],[18.0,0],[18.5,2],[19.0,0],[19.5,2],[20.0,4],[20.33,2],[20.67,4],[21.0,1],[21.1,0],[23.92,0]],
  [[0,18],[0.25,17],[0.5,19],[0.75,18],[1.0,19],[1.25,20],[1.5,17],[1.75,19],[2.0,14],[2.25,17],[2.5,13],[2.75,16],[3.0,12],[3.25,14],[3.5,11],[3.75,13],[4.0,15],[4.25,12],[4.5,13],[4.75,10],[5.0,12],[5.25,11],[5.5,12],[5.75,10],[5.92,11],[6.05,17],[6.2,14],[6.4,10],[6.6,13],[6.8,11],[7.0,15],[7.2,10],[7.4,12],[7.6,9],[7.8,11],[8.0,6],[8.25,3],[8.5,4],[8.75,2],[9.0,3],[9.25,1],[9.5,2],[10.0,0],[10.08,15],[10.25,18],[10.5,12],[10.75,5],[11.0,3],[11.17,19],[11.42,16],[11.67,11],[11.92,13],[12.17,8],[12.42,11],[12.67,6],[12.92,9],[13.17,5],[13.42,8],[13.67,3],[13.92,6],[14.17,2],[14.5,3],[14.75,9],[15.0,3],[15.25,1],[15.5,3],[16.0,1],[16.5,2],[17.0,1],[17.5,0],[18.0,1],[18.5,2],[19.0,1],[19.5,3],[20.0,2],[20.5,3],[20.83,4],[21.05,0],[23.92,0]],
  [[0,10],[0.25,12],[0.5,10],[0.75,11],[0.85,0],[1.0,0],[1.17,6],[1.5,7],[1.75,6],[2.0,7],[2.25,5],[2.5,6],[2.75,4],[3.0,6],[3.25,5],[3.5,7],[3.75,5],[4.0,6],[4.25,4],[4.5,6],[4.75,4],[5.0,5],[5.25,4],[5.5,6],[5.75,4],[5.92,5],[6.05,9],[6.25,3],[6.5,1],[6.75,4],[7.0,2],[7.25,5],[7.5,3],[7.75,6],[8.0,3],[8.25,1],[8.75,0],[9.5,1],[10.0,0],[10.25,6],[10.5,3],[10.75,1],[11.08,10],[11.33,7],[11.58,4],[11.83,6],[12.08,2],[12.33,4],[12.58,1],[13.0,3],[13.5,0],[14.0,1],[14.5,0],[14.83,2],[15.17,0],[16.0,0],[17.0,1],[17.5,0],[18.5,0],[19.0,1],[19.5,0],[20.0,1],[20.5,0],[21.0,1],[21.1,0],[23.92,0]],
  [[0,17],[0.25,18],[0.5,20],[0.75,19],[1.0,20],[1.25,19],[1.5,20],[1.75,16],[2.0,19],[2.25,16],[2.5,18],[2.75,14],[3.0,17],[3.25,15],[3.5,14],[3.75,16],[4.0,13],[4.25,15],[4.5,12],[4.75,14],[5.0,11],[5.25,13],[5.5,10],[5.75,12],[5.92,12],[6.05,20],[6.2,15],[6.4,11],[6.6,14],[6.8,12],[7.0,10],[7.2,13],[7.4,10],[7.6,12],[7.8,9],[8.0,7],[8.25,4],[8.5,3],[8.75,4],[9.0,2],[9.5,3],[10.0,1],[10.17,12],[10.42,10],[10.67,5],[10.92,2],[11.17,14],[11.42,12],[11.67,9],[11.92,11],[12.17,7],[12.42,9],[12.67,5],[12.92,8],[13.17,4],[13.42,7],[13.67,3],[13.92,5],[14.17,2],[14.5,3],[14.75,7],[15.0,2],[15.5,3],[16.0,1],[16.5,2],[17.0,0],[17.5,1],[18.0,2],[18.5,1],[19.0,2],[19.5,3],[20.0,4],[20.5,3],[20.83,4],[21.05,0],[23.92,0]],
  [[0,15],[0.25,17],[0.5,15],[0.75,16],[1.0,14],[1.25,16],[1.5,14],[1.75,15],[2.0,12],[2.25,14],[2.5,11],[2.75,13],[3.0,10],[3.25,12],[3.5,9],[3.75,11],[4.0,10],[4.25,13],[4.5,9],[4.75,12],[5.0,8],[5.25,10],[5.5,8],[5.75,9],[5.92,9],[6.05,15],[6.2,10],[6.4,7],[6.6,10],[6.8,8],[7.0,11],[7.2,8],[7.4,10],[7.6,7],[7.8,9],[8.0,5],[8.25,2],[8.5,3],[8.75,1],[9.0,2],[9.5,1],[10.0,0],[10.17,8],[10.42,5],[10.67,1],[11.0,2],[11.17,12],[11.42,9],[11.67,6],[11.92,8],[12.17,4],[12.42,6],[12.67,3],[12.92,5],[13.17,2],[13.42,4],[13.67,1],[14.0,2],[14.5,1],[14.75,3],[15.0,1],[15.5,0],[16.0,1],[17.0,0],[18.0,1],[18.5,0],[19.0,1],[19.5,0],[20.0,2],[20.5,1],[21.0,0],[23.92,0]],
  [[0,0],[0.85,0],[1.0,1],[1.5,1],[2.0,2],[2.5,1],[3.0,2],[3.5,3],[4.0,2],[4.5,4],[5.0,3],[5.5,4],[5.92,4],[6.05,14],[6.2,9],[6.4,5],[6.6,8],[6.8,6],[7.0,9],[7.2,5],[7.4,8],[7.6,5],[7.8,7],[8.0,3],[8.25,1],[8.5,2],[9.0,0],[10.0,0],[10.25,3],[10.5,0],[11.08,4],[11.33,2],[11.58,3],[12.0,1],[12.5,2],[13.0,0],[14.0,0],[14.83,1],[15.0,0],[23.92,0]],
  [[0,20],[0.25,19],[0.5,18],[0.75,20],[1.0,18],[1.25,17],[1.5,19],[1.75,18],[2.0,20],[2.25,18],[2.5,19],[2.75,17],[3.0,18],[3.25,16],[3.5,17],[3.75,14],[4.0,16],[4.25,13],[4.5,15],[4.75,12],[5.0,14],[5.25,12],[5.5,13],[5.75,11],[5.92,12],[6.05,17],[6.2,13],[6.4,12],[6.6,15],[6.8,13],[7.0,12],[7.2,14],[7.4,11],[7.6,13],[7.8,10],[8.0,8],[8.25,5],[8.5,4],[8.75,3],[9.0,4],[9.5,2],[10.0,1],[10.17,17],[10.42,13],[10.67,6],[10.92,3],[11.17,18],[11.42,14],[11.67,10],[11.92,12],[12.17,9],[12.42,10],[12.67,7],[12.92,9],[13.17,6],[13.42,8],[13.67,4],[13.92,6],[14.17,3],[14.5,4],[14.75,12],[15.0,4],[15.25,2],[15.5,3],[16.0,1],[16.5,3],[17.0,1],[17.5,2],[18.0,1],[18.5,2],[19.0,1],[19.5,2],[20.0,3],[20.5,4],[20.83,5],[21.05,0],[23.92,0]]
];

// ---- layout / style ----
const FONT = 'DejaVu Sans';
const panelTops = [10, 233, 456, 679];
const plotHeight = 186;
const highlighted = [baseline, mpcVanilla, mpcIdeal, mpcHybrid];
const otherDays = [baselineDays, vanillaDays, idealDays, hybridDays];

const grid = panelTops.map(t => ({
  left: 81, right: 6, top: t, height: plotHeight,
  show: true, borderColor: '#222', borderWidth: 1.2, backgroundColor: 'transparent'
}));

const xAxis = panelTops.map((t, i) => ({
  gridIndex: i, type: 'value', min: 0, max: dayEnd,
  axisLine: { show: true, onZero: false, lineStyle: { color: '#222', width: 1.2 } },
  axisTick: { show: true, length: 5, customValues: hourTicks, lineStyle: { color: '#222', width: 1.2 } },
  axisLabel: { customValues: hourTicks, fontSize: 17, color: '#111', fontFamily: FONT, margin: 11 },
  splitLine: { show: false },
  name: i === 3 ? 'Hour of day' : '',
  nameLocation: 'middle', nameGap: 41,
  nameTextStyle: { fontSize: 20, color: '#111', fontFamily: FONT }
}));

const yAxis = panelTops.map((t, i) => ({
  gridIndex: i, type: 'value', min: 0, max: kwMax,
  axisLine: { show: true, lineStyle: { color: '#222', width: 1.2 } },
  axisTick: { show: true, length: 5, customValues: kwTicks, lineStyle: { color: '#222', width: 1.2 } },
  axisLabel: { customValues: kwTicks, fontSize: 17, color: '#111', fontFamily: FONT, margin: 12 },
  splitLine: { show: false },
  name: '{t|MA}{s|15}{t|(}{i|P}{t|)[kW]}',
  nameLocation: 'middle', nameRotate: 90, nameGap: 42,
  nameTextStyle: {
    fontFamily: FONT,
    rich: {
      t: { fontSize: 21, color: '#111', fontFamily: FONT, lineHeight: 30 },
      s: { fontSize: 15, color: '#111', fontFamily: FONT, lineHeight: 15, verticalAlign: 'bottom' },
      i: { fontSize: 21, color: '#111', fontFamily: FONT, fontStyle: 'italic', lineHeight: 30 }
    }
  }
}));

const legend = panelNames.map((n, i) => ({
  data: [n], left: 88, top: panelTops[i] + 8, orient: 'horizontal', z: 20,
  icon: 'rect', itemWidth: 36, itemHeight: 3, selectedMode: false,
  padding: [5, 10, 5, 8], borderColor: '#cccccc', borderWidth: 1, borderRadius: 4,
  backgroundColor: '#ffffff',
  textStyle: { fontSize: 17, color: '#111', fontFamily: FONT, padding: [0, 0, 0, 6] }
}));

const series = [];
panelNames.forEach((n, i) => {
  // morning window shading
  series.push({
    type: 'line', xAxisIndex: i, yAxisIndex: i, data: [], z: 1, silent: true,
    markArea: {
      silent: true,
      itemStyle: { color: 'rgba(128,128,128,0.25)', borderColor: 'rgba(128,128,128,0.3)', borderWidth: 1.5 },
      data: [[{ xAxis: shadeWindow[0] }, { xAxis: shadeWindow[1] }]]
    }
  });
  // remaining days in grey
  otherDays[i].forEach(day => {
    series.push({
      type: 'line', xAxisIndex: i, yAxisIndex: i, data: day, z: 2,
      showSymbol: false, silent: true,
      lineStyle: { color: 'rgba(128,128,128,0.45)', width: 2.2 }
    });
  });
  // highlighted day with its peak line
  series.push({
    name: n, type: 'line', xAxisIndex: i, yAxisIndex: i, data: highlighted[i], z: 4,
    showSymbol: false, color: panelColors[i],
    lineStyle: { color: panelColors[i], width: 2.6 },
    markLine: {
      silent: true, symbol: ['none', 'none'], label: { show: false }, z: 3,
      lineStyle: { color: '#ff3030', type: [3, 2], width: 1 },
      data: [{ yAxis: peakKw[i] }]
    }
  });
  // peak value annotation
  series.push({
    type: 'scatter', xAxisIndex: i, yAxisIndex: i, z: 5, silent: true,
    data: [[peakLabelHour, peakKw[i]]], symbolSize: 0,
    itemStyle: { color: '#000', opacity: 1 },
    label: {
      show: true, position: 'top', align: 'left', distance: 0,
      fontSize: 20, color: '#000', opacity: 1, fontFamily: FONT,
      formatter: p => p.value[1].toFixed(1) + ' kW'
    }
  });
});

const chart = echarts.init(document.getElementById('chart'), null, { renderer: 'canvas' });
chart.setOption({
  animation: false,
  backgroundColor: '#ffffff',
  textStyle: { fontFamily: FONT },
  grid, xAxis, yAxis, legend, series
});
</script>
</body>
</html>
